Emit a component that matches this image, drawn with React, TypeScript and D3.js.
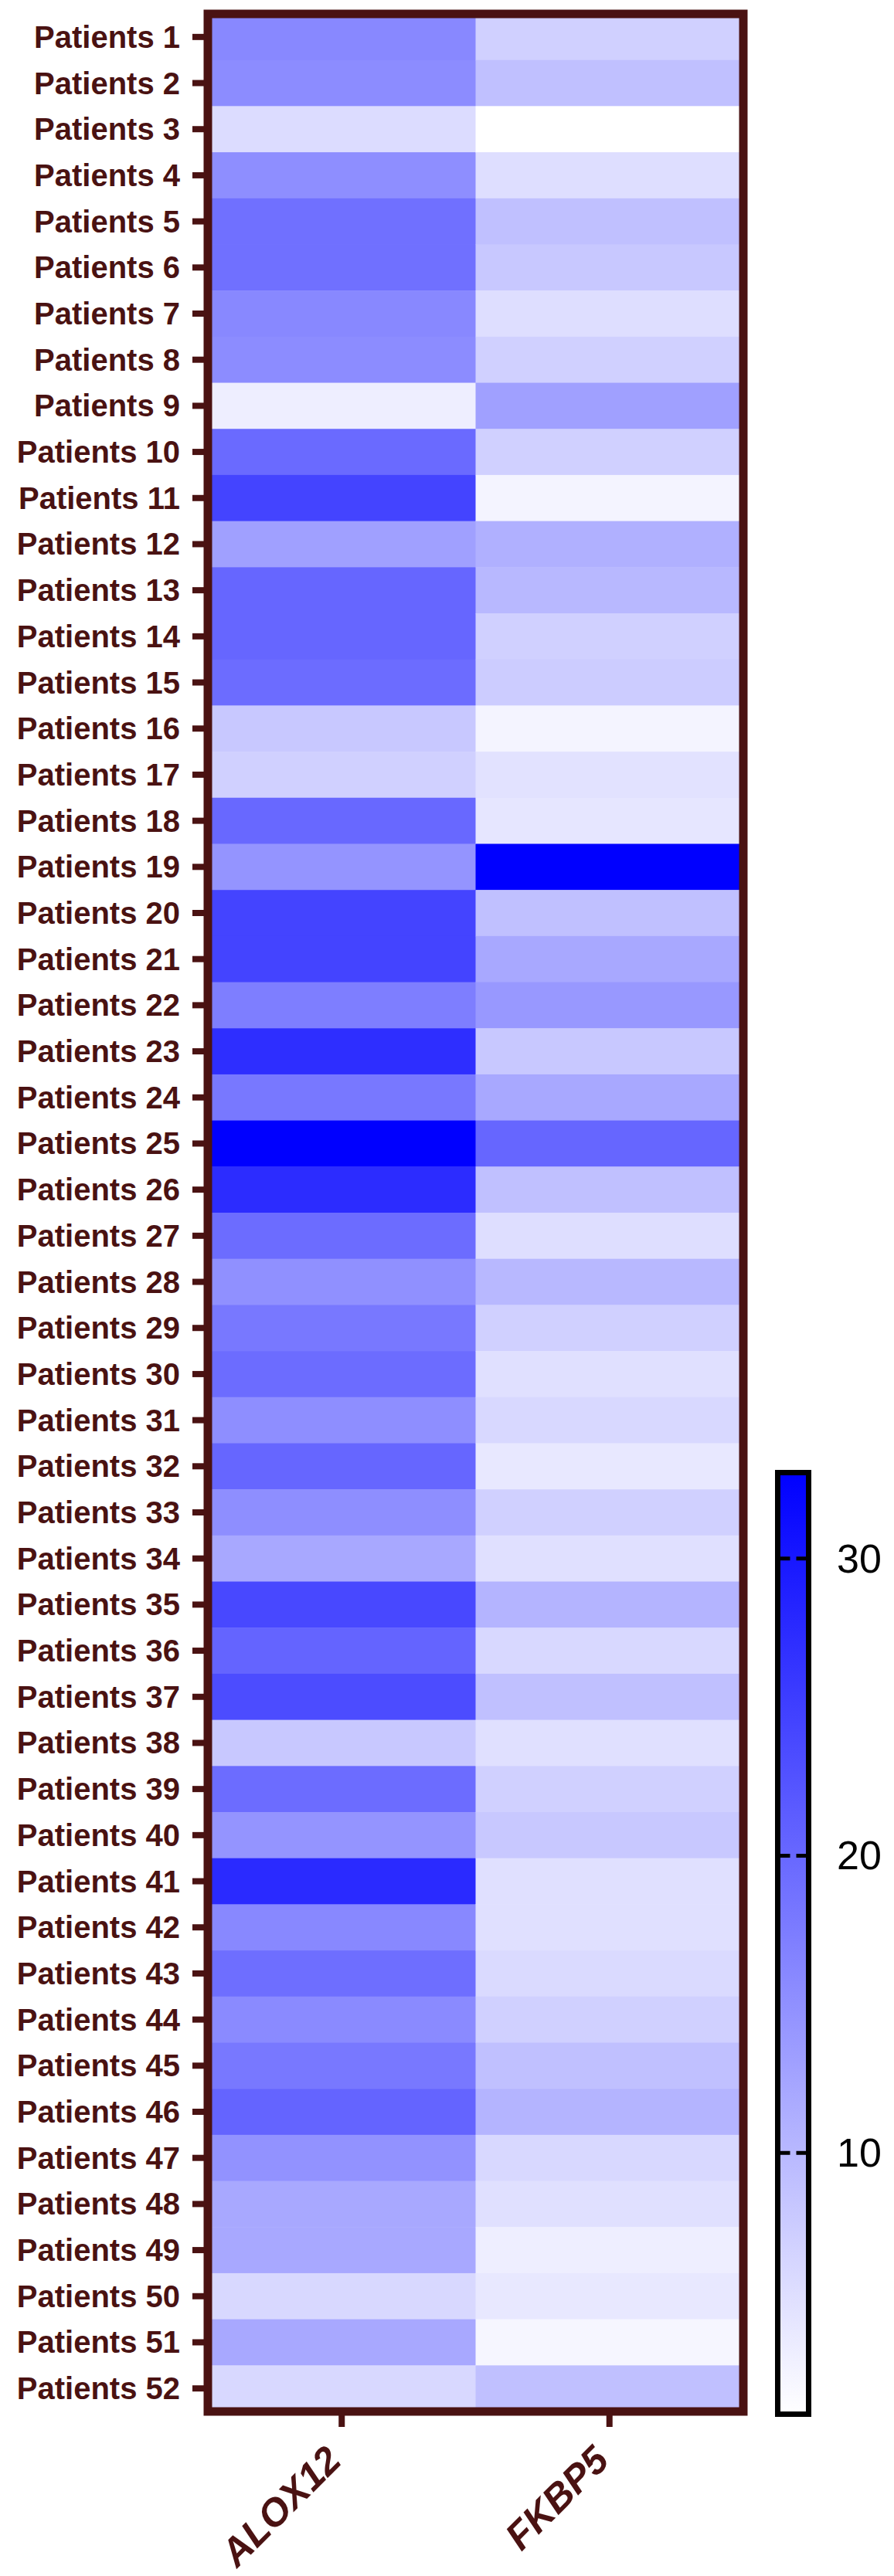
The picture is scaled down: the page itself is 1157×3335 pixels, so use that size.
import React from "react";
import * as d3 from "d3";

const patients: string[] = Array.from({ length: 52 }, (_, i) => `Patients ${i + 1}`);
const genes: string[] = ["ALOX12", "FKBP5"];

const alox12: number[] = [
  16.0, 15.5, 5.6, 15.3, 19.0, 19.0, 16.0, 15.5, 3.4, 19.7,
  24.4, 13.0, 20.2, 20.2, 19.5, 8.1, 7.1, 20.0, 14.5, 24.4,
  24.4, 17.2, 27.1, 18.0, 32.8, 27.4, 19.5, 15.0, 18.0, 19.5,
  15.3, 20.2, 15.3, 12.0, 23.9, 20.5, 23.4, 8.1, 19.5, 14.5,
  27.6, 16.0, 19.2, 15.8, 18.0, 20.5, 14.8, 12.0, 12.0, 6.1,
  12.0, 6.1,
];
const fkbp5: number[] = [
  7.1, 9.1, 1.3, 5.4, 9.1, 8.1, 5.4, 7.1, 13.0, 7.1,
  2.7, 11.1, 10.1, 7.1, 7.6, 2.7, 4.9, 4.4, 32.8, 9.1,
  12.0, 14.0, 8.1, 12.0, 20.2, 9.1, 5.4, 10.1, 7.1, 5.1,
  6.1, 4.1, 7.1, 5.1, 10.6, 6.1, 9.1, 5.1, 7.1, 8.1,
  5.1, 5.1, 5.9, 7.1, 9.1, 10.6, 6.1, 5.1, 3.4, 4.1,
  2.4, 9.1,
];
const colorDomain: number[] = [1.3, 32.8];
const colorTicks: number[] = [10, 20, 30];

const W = 1157;
const H = 3335;
const frameColor = "#4a1212";
const font = "'Liberation Sans', Arial, Helvetica, sans-serif";

export default function App() {
  const top = 18, bottom = 3122, left = 269, right = 962;
  const y = d3.scaleBand<string>().domain(patients).range([top, bottom]).padding(0);
  const x = d3.scaleBand<string>().domain(genes).range([left, right]).padding(0);
  const color = d3
    .scaleLinear<string>()
    .domain(colorDomain)
    .range(["#ffffff", "#0000ff"])
    .interpolate(d3.interpolateRgb);

  const series: Record<string, number[]> = { ALOX12: alox12, FKBP5: fkbp5 };

  const cbLeft = 1006.5, cbWidth = 40;
  const cbScale = d3.scaleLinear().domain(colorDomain).range([3122, 1910]);
  const cbTop = cbScale(colorDomain[1]) - 3.5;
  const cbBottom = cbScale(colorDomain[0]) + 3.5;

  return (
    <svg
      width={W}
      height={H}
      style={{ position: "absolute", left: 0, top: 0, background: "#fff" }}
      xmlns="http://www.w3.org/2000/svg"
    >
      <defs>
        <linearGradient id="cbGrad" x1="0" y1="1" x2="0" y2="0">
          <stop offset="0%" stopColor={color(colorDomain[0])} />
          <stop offset="100%" stopColor={color(colorDomain[1])} />
        </linearGradient>
      </defs>

      {/* cells */}
      {genes.map((g) =>
        patients.map((p, i) => (
          <rect
            key={g + p}
            x={x(g)!}
            y={y(p)!}
            width={x.bandwidth() + 0.5}
            height={y.bandwidth() + 0.5}
            fill={color(series[g][i])}
          />
        ))
      )}

      {/* frame */}
      <rect
        x={left}
        y={top}
        width={right - left}
        height={bottom - top}
        fill="none"
        stroke={frameColor}
        strokeWidth={11}
      />

      {/* y ticks and labels */}
      {patients.map((p) => {
        const cy = y(p)! + y.bandwidth() / 2;
        return (
          <g key={p}>
            <line x1={249} x2={left - 4} y1={cy} y2={cy} stroke={frameColor} strokeWidth={8} />
            <text
              x={233}
              y={cy}
              textAnchor="end"
              dominantBaseline="central"
              fontFamily={font}
              fontWeight="bold"
              fontSize={40}
              fill={frameColor}
            >
              {p}
            </text>
          </g>
        );
      })}

      {/* x ticks and labels */}
      {genes.map((g) => {
        const cx = x(g)! + x.bandwidth() / 2;
        return (
          <g key={g}>
            <line x1={cx} x2={cx} y1={bottom - 5} y2={bottom + 20} stroke={frameColor} strokeWidth={8} />
            <text
              transform={`translate(${cx + 2},${3188}) rotate(-45)`}
              textAnchor="end"
              fontFamily={font}
              fontWeight="bold"
              fontStyle="italic"
              fontSize={50}
              fill={frameColor}
            >
              {g}
            </text>
          </g>
        );
      })}

      {/* colour bar */}
      <rect
        x={cbLeft}
        y={cbTop}
        width={cbWidth}
        height={cbBottom - cbTop}
        fill="url(#cbGrad)"
        stroke="#000"
        strokeWidth={7}
      />
      {colorTicks.map((t) => {
        const ty = cbScale(t);
        return (
          <g key={t}>
            <line x1={cbLeft + 3} x2={cbLeft + 16} y1={ty} y2={ty} stroke="#000" strokeWidth={5} />
            <line x1={cbLeft + cbWidth - 16} x2={cbLeft + cbWidth - 3} y1={ty} y2={ty} stroke="#000" strokeWidth={5} />
            <text
              x={1083}
              y={ty}
              dominantBaseline="central"
              fontFamily={font}
              fontSize={52}
              fill="#000"
            >
              {t}
            </text>
          </g>
        );
      })}
    </svg>
  );
}
